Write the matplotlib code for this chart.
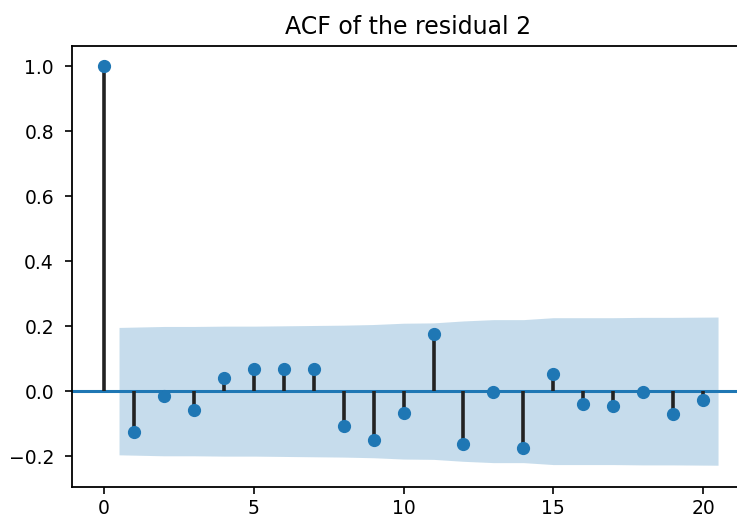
import matplotlib
matplotlib.use("Agg")
import matplotlib.pyplot as plt
import numpy as np

# autocorrelation of the residual, lags 0..20
lags = np.arange(21)
acf = [1.0, -0.125, -0.014, -0.058, 0.041, 0.067, 0.067, 0.067, -0.108, -0.151,
       -0.066, 0.177, -0.164, -0.002, -0.176, 0.054, -0.040, -0.046, -0.002,
       -0.071, -0.026]

# 95% confidence band half-width for lags 1..20
conf = [0.196, 0.199, 0.199, 0.200, 0.200, 0.201, 0.202, 0.203, 0.205, 0.209,
        0.210, 0.216, 0.220, 0.220, 0.226, 0.226, 0.226, 0.227, 0.227, 0.228]

fig = plt.figure(figsize=(7.37, 5.17), dpi=100)
ax = fig.add_axes([72/737, 30/517, (745-72)/737, (487-46)/517])

ax.vlines(lags, 0, acf, colors='#222222', linewidth=2.6, zorder=2)
ax.axhline(0, color='C0', linewidth=2.2, zorder=1)
ax.plot(lags, acf, 'o', color='C0', markersize=8.5, zorder=3)

band_x = lags[1:].astype(float)
band_x[0] -= 0.5
band_x[-1] += 0.5
conf = np.array(conf)
ax.fill_between(band_x, -conf, conf, color='C0', alpha=0.25, linewidth=0, zorder=0)

ax.set_title('ACF of the residual 2', fontsize=17, pad=9)
ax.set_xlim(-1.07, 21.4)
ax.set_ylim(-0.295, 1.062)
ax.set_xticks([0, 5, 10, 15, 20])
ax.set_yticks([-0.2, 0.0, 0.2, 0.4, 0.6, 0.8, 1.0])
ax.tick_params(labelsize=13.5, length=5, width=1.2)
ax.tick_params(axis='y', pad=8)
for s in ax.spines.values():
    s.set_linewidth(1.3)

fig.savefig('out.png', dpi=100)
